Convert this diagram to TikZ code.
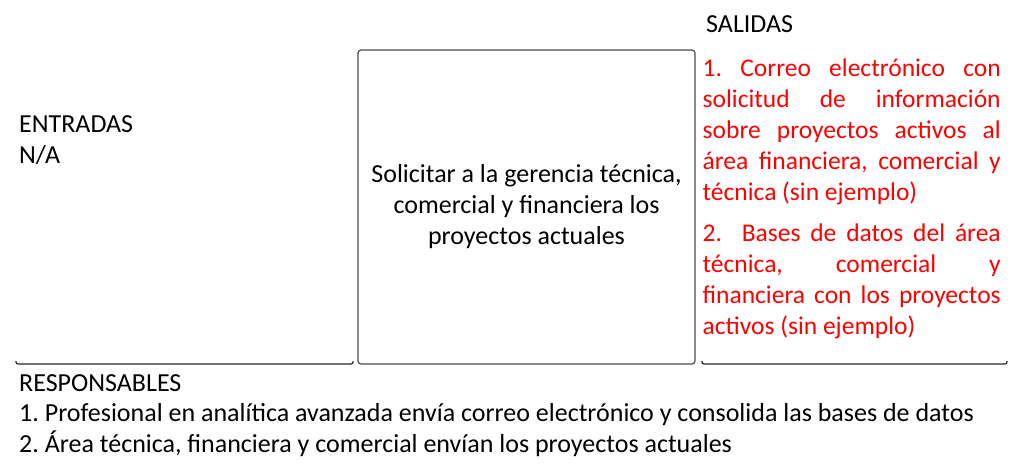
\documentclass[tikz,border=0pt]{standalone}
\usepackage{fontspec}
\setmainfont{Carlito}
\usetikzlibrary{positioning}
\tikzset{
  espacio/.style={execute at begin node={\frenchspacing\spaceskip=0pt\xspaceskip=0pt\relax}},
  rotulo/.style={anchor=base west, inner sep=0pt, text width=#1, align=left, espacio,
    font=\fontsize{26}{31}\selectfont},
  rotulo/.default=300pt,
  caja/.style={draw=black!70, line width=1.2pt, rounded corners=3pt,
    minimum width=337pt, minimum height=314pt, inner sep=0pt, espacio,
    align=center, font=\fontsize{26}{31}\selectfont},
  borde/.style={draw=black!85, line width=1.2pt, rounded corners=2pt},
}
\newcommand{\lineaj}[1]{\makebox[298pt][s]{\spaceskip=0pt\xspaceskip=0pt\relax #1}}
\begin{document}
\begin{tikzpicture}[x=1pt,y=-1pt]
\useasboundingbox (0,0) rectangle (1024,474);
% bordes inferiores
\draw[borde] (16,361) -- (16,364) -- (353,364) -- (353,361);
\draw[borde] (702,361) -- (702,364) -- (1007,364) -- (1007,361);
% actividad
\node[caja] (tarea) at (526.5,207) {Solicitar a la gerencia técnica,\\ comercial y financiera los\\ proyectos actuales};
% entradas
\node[rotulo] (entradas) at (19,132) {ENTRADAS\\ N/A};
% salidas
\node[rotulo] (salidas) at (706,32) {SALIDAS};
\node[rotulo=298pt, text=red, font=\fontsize{25.5}{31}\selectfont] (lista) at (702.5,76) {%
  \lineaj{1. Correo electrónico con}\\
  \lineaj{solicitud de información}\\
  \lineaj{sobre proyectos activos al}\\
  \lineaj{área financiera, comercial y}\\
  técnica (sin ejemplo)\\[10.5pt]
  \lineaj{2.\ \ Bases de datos del área}\\
  \lineaj{técnica, comercial y}\\
  \lineaj{financiera con los proyectos}\\
  activos (sin ejemplo)};
% responsables
\node[rotulo=1000pt, font=\fontsize{26}{30.5}\selectfont] (responsables) at (19,391) {RESPONSABLES\\
  1. Profesional en analítica avanzada envía correo electrónico y consolida las bases de datos\\
  2. Área técnica, financiera y comercial envían los proyectos actuales};
\end{tikzpicture}
\end{document}
